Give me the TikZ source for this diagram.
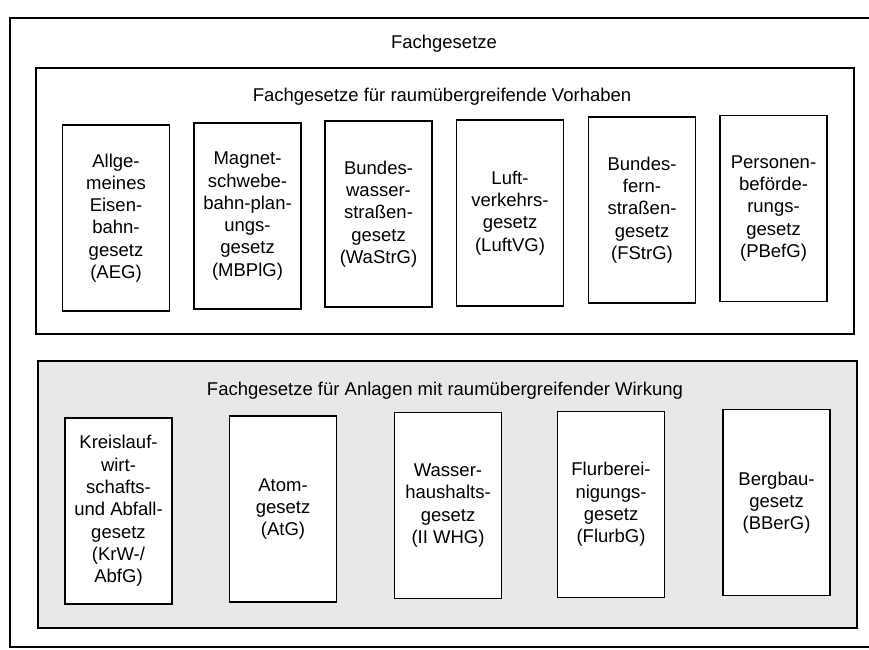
\documentclass[tikz,border=0pt]{standalone}
\usepackage{fontspec}
\setmainfont{Liberation Sans}
\begin{document}
\begin{tikzpicture}[x=1pt,y=-1pt,
  frame/.style={draw=black, line width=1.6pt},
  law/.style={draw=black, line width=1.6pt, fill=white,
    minimum width=107pt, minimum height=186pt, inner sep=0pt,
    align=center, font=\fontsize{18.5}{22.3}\selectfont},
  heading/.style={font=\fontsize{18.5}{22.3}\selectfont, inner sep=0pt, anchor=base}]
\useasboundingbox (0,0) rectangle (869,649);

% outer frame, open towards the right edge of the page
\draw[frame] (869,18) -- (10,18) -- (10,647) -- (869,647);
\node[heading] (fg) at (444,48) {Fachgesetze};

% group 1: projects spanning several regions
\draw[frame] (36,68) rectangle (854,334);
\node[heading] (vorhaben) at (442,101) {Fachgesetze für raumübergreifende Vorhaben};

\node[law] (aeg)   at (116,218)   {Allge-\\meines\\Eisen-\\bahn-\\gesetz\\(AEG)};
\node[law] (mbplg) at (247.5,216) {Magnet-\\schwebe-\\bahn-plan-\\ungs-\\gesetz\\(MBPlG)};
\node[law] (wastrg) at (378.5,214) {Bundes-\\wasser-\\straßen-\\gesetz\\(WaStrG)};
\node[law] (luftvg) at (510,213)  {Luft-\\verkehrs-\\gesetz\\(LuftVG)};
\node[law] (fstrg) at (642,210)   {Bundes-\\fern-\\straßen-\\gesetz\\(FStrG)};
\node[law] (pbefg) at (773.5,208.5) {Personen-\\beförde-\\rungs-\\gesetz\\(PBefG)};

% group 2: installations with effects across regions
\draw[frame, fill=black!9] (38,361) rectangle (857,628);
\node[heading] (anlagen) at (445,395) {Fachgesetze für Anlagen mit raumübergreifender Wirkung};

\node[law] (krw)   at (118.5,511) {Kreislauf-\\wirt-\\schafts-\\und Abfall-\\gesetz\\(KrW-/\\AbfG)};
\node[law] (atg)   at (283,509)   {Atom-\\gesetz\\(AtG)};
\node[law] (whg)   at (448,505.5) {Wasser-\\haushalts-\\gesetz\\(II WHG)};
\node[law] (flurbg) at (611,504.5) {Flurberei-\\nigungs-\\gesetz\\(FlurbG)};
\node[law] (bberg) at (776.5,502.5) {Bergbau-\\gesetz\\(BBerG)};
\end{tikzpicture}
\end{document}
